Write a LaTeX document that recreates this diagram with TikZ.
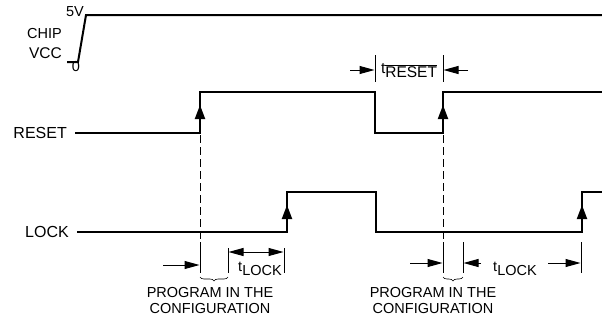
\documentclass[tikz,border=0pt]{standalone}
\usepackage{fontspec}
\setmainfont{Liberation Sans}
\usetikzlibrary{arrows.meta,decorations.pathreplacing}
\begin{document}
\begin{tikzpicture}[x=1pt,y=-1pt,
  sig/.style={line width=2pt, line join=miter},
  thinln/.style={line width=1pt},
  dashln/.style={line width=1pt, dash pattern=on 8pt off 4pt},
  rise/.style={-{Triangle[length=14pt,width=10pt]}, line width=2pt},
  dim/.style={line width=1pt, -{Triangle[length=15pt,width=8pt]}},
  dimboth/.style={line width=1pt, {Triangle[length=15pt,width=8pt]}-{Triangle[length=15pt,width=8pt]}},
  lbl/.style={font=\fontsize{14.5}{16}\selectfont, inner sep=0pt},
  biglbl/.style={font=\fontsize{16}{18}\selectfont, inner sep=0pt},
  brc/.style={decorate, decoration={brace, amplitude=4pt}, line width=0.6pt},
]
\useasboundingbox (0,0) rectangle (602,322);

% ---- CHIP VCC ----
\node[lbl, anchor=east] (chip) at (62,34) {CHIP};
\node[lbl, anchor=east, font=\fontsize{15.5}{17}\selectfont] (vcc) at (62,53) {VCC};
\node[lbl, anchor=east] (v5) at (84,12) {5V};
\node[lbl] (v0) at (76,67) {0};
\coordinate (va) at (67,62);
\coordinate (vb) at (78,62);
\coordinate (vc) at (86,15);
\coordinate (vd) at (602,15);
\draw[sig] (va) -- (vb) -- (vc) -- (vd);

% ---- RESET ----
\node[biglbl, anchor=east] (rst) at (67,133) {RESET};
\coordinate (r0) at (75,133);
\coordinate (r1) at (200,133);
\coordinate (r2) at (200,92);
\coordinate (r3) at (375,92);
\coordinate (r4) at (375,133);
\coordinate (r5) at (443,133);
\coordinate (r6) at (443,92);
\coordinate (r7) at (602,92);
\draw[sig] (r0) -- (r1) -- (r2) -- (r3) -- (r4) -- (r5) -- (r6) -- (r7);
\coordinate (ra1) at (200,105);
\coordinate (ra2) at (443,105);
\draw[rise] (r1) -- (ra1);
\draw[rise] (r5) -- (ra2);

% ---- LOCK ----
\node[biglbl, anchor=east] (lck) at (69,232) {LOCK};
\coordinate (l0) at (77,232);
\coordinate (l1) at (287,232);
\coordinate (l2) at (287,192);
\coordinate (l3) at (376,192);
\coordinate (l4) at (376,232);
\coordinate (l5) at (582,232);
\coordinate (l6) at (582,192);
\coordinate (l7) at (602,192);
\draw[sig] (l0) -- (l1) -- (l2) -- (l3) -- (l4) -- (l5) -- (l6) -- (l7);
\coordinate (la1) at (287,205);
\coordinate (la2) at (582,205);
\draw[rise] (l1) -- (la1);
\draw[rise] (l5) -- (la2);

% ---- dashed lines ----
\coordinate (d1a) at (200,135);
\coordinate (d1b) at (200,242);
\coordinate (d1c) at (200,273);
\coordinate (d2a) at (443,135);
\coordinate (d2b) at (443,242);
\coordinate (d2c) at (443,273);
\draw[dashln] (d1a) -- (d1b);
\draw[thinln] (d1b) -- (d1c);
\draw[dashln] (d2a) -- (d2b);
\draw[thinln] (d2b) -- (d2c);

% ---- t_RESET ----
\coordinate (tr1a) at (375,55);
\coordinate (tr1b) at (375,82);
\coordinate (tr2a) at (443,55);
\coordinate (tr2b) at (443,82);
\draw[thinln] (tr1a) -- (tr1b);
\draw[thinln] (tr2a) -- (tr2b);
\coordinate (tra) at (350,70);
\coordinate (trb) at (374.5,70);
\coordinate (trc) at (468,70);
\coordinate (trd) at (443.5,70);
\draw[dim] (tra) -- (trb);
\draw[dim] (trc) -- (trd);
\node[lbl, anchor=base, font=\fontsize{15.5}{17}\selectfont] (trl) at (409,73) {t\raisebox{-4pt}{$\overline{\mbox{RESET}}$}};

% ---- left bottom annotation ----
\coordinate (e1a) at (228,248);
\coordinate (e1b) at (228,273);
\coordinate (e2a) at (284,248);
\coordinate (e2b) at (284,273);
\draw[thinln] (e1a) -- (e1b);
\draw[thinln] (e2a) -- (e2b);
\coordinate (pa) at (163,265);
\coordinate (pb) at (199.5,265);
\draw[dim] (pa) -- (pb);
\coordinate (qa) at (228.5,252);
\coordinate (qb) at (283.5,252);
\draw[dimboth] (qa) -- (qb);
\node[lbl, anchor=base] (tl1) at (260,271) {t\raisebox{-4pt}{LOCK}};
\coordinate (b1a) at (228,277);
\coordinate (b1b) at (200,277);
\draw[brc] (b1a) -- (b1b);
\node[lbl, align=center, anchor=north] (pc1) at (210,287) {PROGRAM IN THE\\CONFIGURATION};

% ---- right bottom annotation ----
\coordinate (f1a) at (463,242);
\coordinate (f1b) at (463,273);
\coordinate (f2a) at (581,242);
\coordinate (f2b) at (581,273);
\draw[thinln] (f1a) -- (f1b);
\draw[thinln] (f2a) -- (f2b);
\coordinate (sa) at (410,263);
\coordinate (sb) at (442.5,263);
\draw[dim] (sa) -- (sb);
\coordinate (sc) at (481,263);
\coordinate (sd) at (463.5,263);
\draw[dim] (sc) -- (sd);
\coordinate (se) at (548,263);
\coordinate (sf) at (580.5,263);
\draw[dim] (se) -- (sf);
\node[lbl, anchor=base] (tl2) at (515,271) {t\raisebox{-4pt}{LOCK}};
\coordinate (b2a) at (463,277);
\coordinate (b2b) at (443,277);
\draw[brc] (b2a) -- (b2b);
\node[lbl, align=center, anchor=north] (pc2) at (433,287) {PROGRAM IN THE\\CONFIGURATION};
\end{tikzpicture}
\end{document}
